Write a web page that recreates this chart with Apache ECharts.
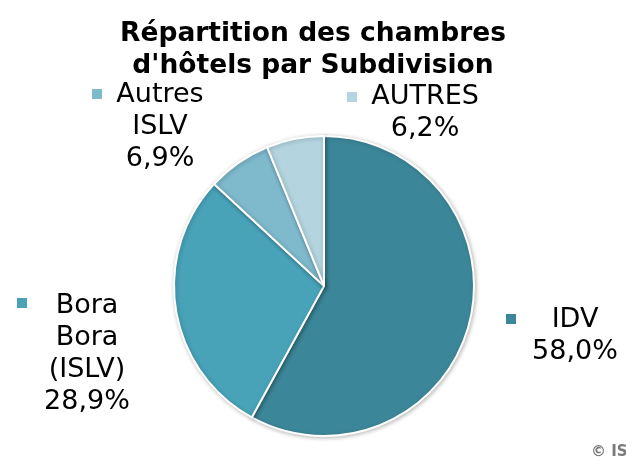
<!DOCTYPE html>
<html>
<head>
<meta charset="utf-8">
<script src="https://cdn.jsdelivr.net/npm/echarts@6/dist/echarts.min.js"></script>
<style>
  html, body { margin: 0; padding: 0; background: #fff; }
  #chart { width: 626px; height: 461px; }
</style>
</head>
<body>
<div id="chart"></div>
<script>
(function(){

// données
var categories = ['IDV', 'Bora Bora (ISLV)', 'Autres ISLV', 'AUTRES'];
var values = [58.0, 28.9, 6.9, 6.2];
var colors = ['#3b8799', '#48a3b9', '#7eb9cc', '#b4d4df'];

// placement des étiquettes et des repères (centre du texte / coin du carré)
var labelPos = [[575, 336], [87, 354], [160, 127], [425, 113]];
var markerPos = [[504, 312], [15, 296], [90, 87], [345, 90]];

var font = '"DejaVu Sans", Verdana, sans-serif';

var chart = echarts.init(document.getElementById('chart'));

var legends = categories.map(function(name, i) {
	return {
		data: [name],
		left: markerPos[i][0],
		top: markerPos[i][1],
		icon: 'rect',
		itemWidth: 12,
		itemHeight: 12,
		padding: 0,
		itemGap: 0,
		selectedMode: false,
		formatter: function() { return ''; },
		textStyle: { fontSize: 1 }
	};
});

var option = {
	backgroundColor: '#fff',
	animation: false,
	color: colors,
	title: {
		text: "Répartition des chambres\nd'hôtels par Subdivision",
		left: 'center',
		top: 13,
		textStyle: {
			fontFamily: font,
			fontWeight: 'bold',
			fontSize: 26.5,
			lineHeight: 32,
			color: '#000'
		}
	},
	legend: legends,
	graphic: [{
		type: 'text',
		left: 591,
		top: 445,
		style: {
			text: '© ISPF',
			fontFamily: font,
			fontWeight: 'bold',
			fontSize: 15,
			fill: '#7a7a7a'
		}
	}],
	series: [{
		type: 'pie',
		center: [324, 286],
		radius: 150,
		startAngle: 90,
		clockwise: true,
		data: categories.map(function(name, i) {
			return { name: name, value: values[i] };
		}),
		itemStyle: {
			borderColor: '#fff',
			borderWidth: 2,
			shadowBlur: 4,
			shadowColor: 'rgba(0,0,0,0.25)',
			shadowOffsetX: 1,
			shadowOffsetY: 1
		},
		labelLine: { show: false },
		label: {
			show: true,
			position: 'outside',
			fontFamily: font,
			fontSize: 27,
			lineHeight: 32,
			color: '#000',
			align: 'center',
			formatter: function(p) {
				return p.name.split(' ').join('\n') + '\n' + p.value.toFixed(1).replace('.', ',') + '%';
			}
		},
		labelLayout: function(p) {
			var pos = labelPos[p.dataIndex];
			return { x: pos[0], y: pos[1], align: 'center', verticalAlign: 'middle' };
		},
		emphasis: { disabled: true }
	}]
};

chart.setOption(option);

})();
</script>
</body>
</html>
